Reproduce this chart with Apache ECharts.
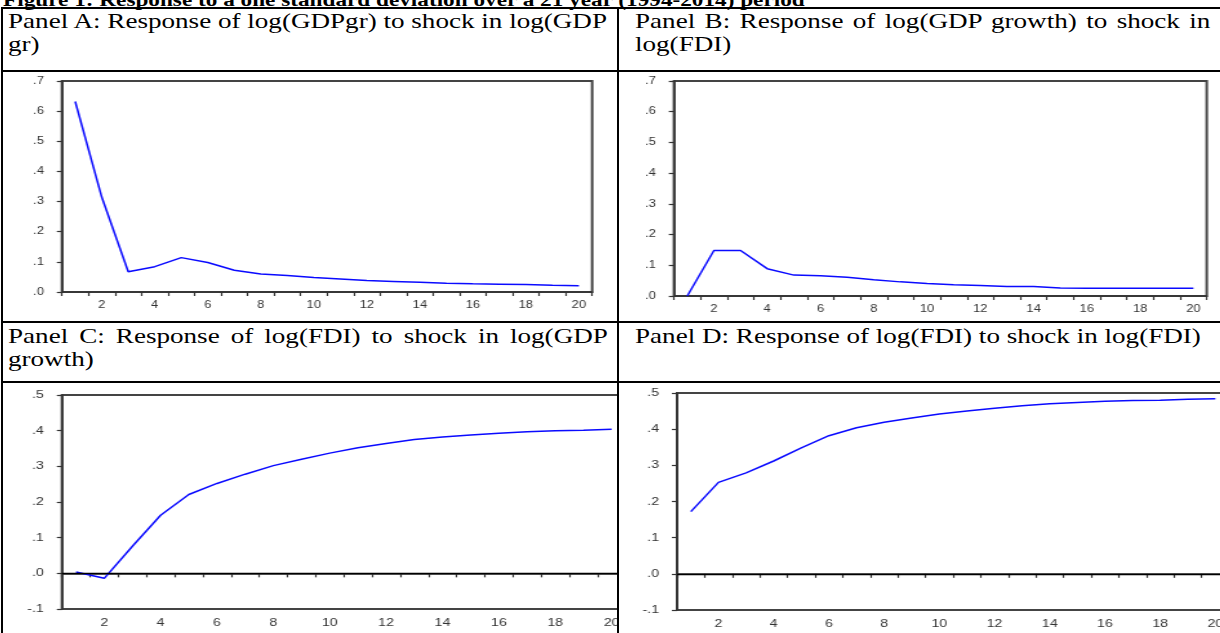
<!DOCTYPE html>
<html>
<head>
<meta charset="utf-8">
<script src="https://cdn.jsdelivr.net/npm/echarts@6/dist/echarts.min.js"></script>
<style>
  body { margin: 0; background: #fff; width: 1220px; height: 633px; overflow: hidden; position: relative; }
  .rule { position: absolute; background: #000; }
  .cell { position: absolute; overflow: hidden; }
  /* the source figure is stretched sideways, so text and charts are widened with scaleX */
  .wide { transform: scaleX(1.29); transform-origin: 0 0; }
  .txt { position: absolute; font-family: "Liberation Serif", "Times New Roman", serif; font-size: 21px; line-height: 23px; color: #000; white-space: nowrap; }
  .just { text-align: justify; text-align-last: justify; white-space: normal; }
  .title { position: absolute; left: 3px; top: -12px; font-family: "Liberation Serif", serif; font-weight: bold; font-size: 18px; line-height: 24px; white-space: nowrap; }
</style>
</head>
<body>
<div class="title wide">Figure 1: Response to a one standard deviation over a 21 year (1994-2014) period</div>

<!-- table rules -->
<div class="rule" style="left:1px;top:7px;width:1219px;height:2px"></div>
<div class="rule" style="left:1px;top:70px;width:1219px;height:2px"></div>
<div class="rule" style="left:1px;top:321px;width:1219px;height:2px"></div>
<div class="rule" style="left:1px;top:381px;width:1219px;height:2px"></div>
<div class="rule" style="left:1px;top:7px;width:2px;height:626px"></div>
<div class="rule" style="left:617px;top:7px;width:2px;height:626px"></div>

<!-- panel headers -->
<div class="txt wide" style="left:8px;top:10px">Panel A: Response of log(GDPgr) to shock in log(GDP<br>gr)</div>
<div class="txt wide just" style="left:635px;top:10px;width:446px">Panel B: Response of log(GDP growth) to shock in</div>
<div class="txt wide" style="left:635px;top:33px">log(FDI)</div>
<div class="txt wide just" style="left:8px;top:325px;width:465px">Panel C: Response of log(FDI) to shock in log(GDP</div>
<div class="txt wide" style="left:8px;top:348px">growth)</div>
<div class="txt wide" style="left:635px;top:325px">Panel D: Response of log(FDI) to shock in log(FDI)</div>

<!-- chart cells -->
<div class="cell" style="left:3px;top:72px;width:614px;height:249px"><div id="chartA" class="wide" style="width:476px;height:249px"></div></div>
<div class="cell" style="left:619px;top:72px;width:601px;height:249px"><div id="chartB" class="wide" style="width:466px;height:249px"></div></div>
<div class="cell" style="left:3px;top:383px;width:614px;height:250px"><div id="chartC" class="wide" style="width:527px;height:250px"></div></div>
<div class="cell" style="left:619px;top:383px;width:601px;height:250px"><div id="chartD" class="wide" style="width:527px;height:250px"></div></div>

<script>
// periods after the shock
const periods = ['1','2','3','4','5','6','7','8','9','10','11','12','13','14','15','16','17','18','19','20'];

// Panel A: log(GDPgr) to shock in log(GDPgr)
const gdpOnGdp = [0.632, 0.315, 0.067, 0.084, 0.114, 0.098, 0.072, 0.060, 0.055, 0.048, 0.043, 0.038, 0.035, 0.032, 0.029, 0.027, 0.026, 0.025, 0.022, 0.021];
// Panel B: log(GDP growth) to shock in log(FDI)
const gdpOnFdi = [0.000, 0.148, 0.148, 0.089, 0.068, 0.066, 0.061, 0.053, 0.046, 0.041, 0.037, 0.034, 0.031, 0.031, 0.026, 0.025, 0.025, 0.025, 0.025, 0.025];
// Panel C: log(FDI) to shock in log(GDP growth)
const fdiOnGdp = [0.004, -0.014, 0.076, 0.163, 0.221, 0.252, 0.278, 0.302, 0.320, 0.337, 0.352, 0.364, 0.375, 0.382, 0.388, 0.393, 0.397, 0.400, 0.401, 0.404];
// Panel D: log(FDI) to shock in log(FDI)
const fdiOnFdi = [0.172, 0.253, 0.279, 0.312, 0.348, 0.382, 0.404, 0.419, 0.431, 0.442, 0.450, 0.458, 0.465, 0.470, 0.474, 0.477, 0.479, 0.480, 0.483, 0.484];

// y labels in EViews style: .7  .0  -.1
function fmt(v) {
  return v.toFixed(1).replace('0.', '.');
}

function buildOption(values, yMin, yMax, grid, fontSize, zeroLine) {
  const series = {
    type: 'line',
    data: values,
    symbol: 'none',
    silent: true,
    lineStyle: { color: '#0a0aff', width: 1.5 },
  };
  if (zeroLine) {
    series.markLine = {
      silent: true,
      symbol: 'none',
      label: { show: false },
      lineStyle: { color: '#000', width: 1.3, type: 'solid' },
      data: [{ yAxis: 0 }],
    };
  }
  return {
    animation: false,
    grid: Object.assign({ show: true, borderColor: '#444', borderWidth: 2 }, grid),
    xAxis: {
      type: 'category',
      data: periods,
      boundaryGap: true,
      axisLine: { lineStyle: { color: '#333', width: 1.6 } },
      axisTick: { show: true, interval: 0, alignWithLabel: false, length: 4, lineStyle: { color: '#333', width: 1.2 } },
      axisLabel: {
        interval: (i) => i % 2 === 1,
        color: '#333',
        fontFamily: 'Liberation Sans, Arial, sans-serif',
        fontSize: fontSize,
        margin: 8,
      },
      splitLine: { show: false },
    },
    yAxis: {
      type: 'value',
      min: yMin,
      max: yMax,
      interval: 0.1,
      axisLine: { show: true, lineStyle: { color: '#333', width: 1.6 } },
      axisTick: { show: true, length: 4, lineStyle: { color: '#333', width: 1.2 } },
      axisLabel: {
        formatter: fmt,
        color: '#333',
        fontFamily: 'Liberation Sans, Arial, sans-serif',
        fontSize: fontSize,
        margin: 14,
      },
      splitLine: { show: false },
    },
    series: [series],
  };
}

// grid numbers are in unstretched units (page px / 1.29)
echarts.init(document.getElementById('chartA')).setOption(
  buildOption(gdpOnGdp, 0, 0.7, { left: 45.7, top: 9, width: 411, height: 211 }, 10, false));
echarts.init(document.getElementById('chartB')).setOption(
  buildOption(gdpOnFdi, 0, 0.7, { left: 42.6, top: 9, width: 413, height: 215 }, 10, false));
echarts.init(document.getElementById('chartC')).setOption(
  buildOption(fdiOnGdp, -0.1, 0.5, { left: 45.7, top: 12, width: 437, height: 214 }, 11, true));
echarts.init(document.getElementById('chartD')).setOption(
  buildOption(fdiOnFdi, -0.1, 0.5, { left: 45, top: 10, width: 428, height: 217 }, 11, true));
</script>
</body>
</html>
